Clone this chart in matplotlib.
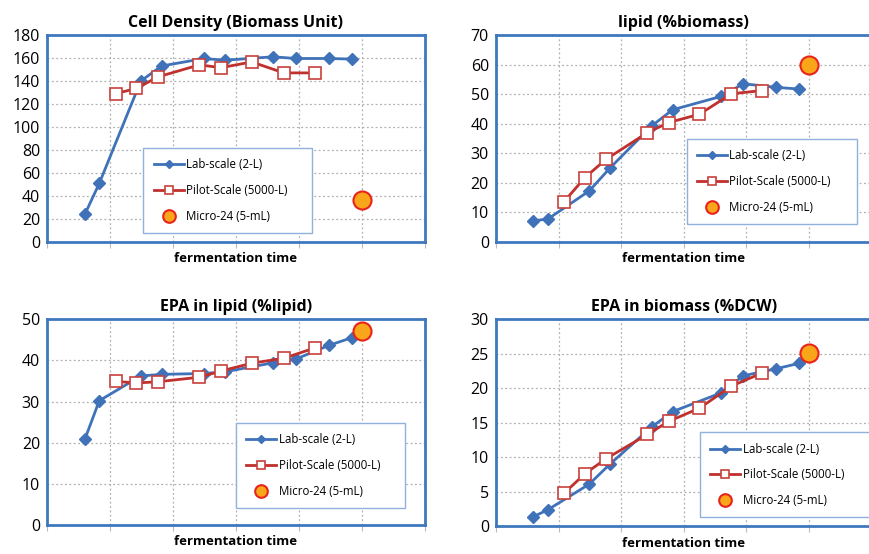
import numpy as np
import matplotlib.pyplot as plt

plt.rcParams['font.family'] = ['Open Sans', 'DejaVu Sans']

# sampling positions (fermentation time, arbitrary units)
t_lab = [0.6, 0.83, 1.49, 1.82, 2.49, 2.82, 3.59, 3.95, 4.47, 4.84]
t_pilot = [1.09, 1.42, 1.76, 2.42, 2.76, 3.25, 3.76, 4.25]
t_micro = [5.0]

# Cell density (biomass unit)
dens_lab = [24, 51, 140, 153, 159.5, 158, 161, 159.5, 159.5, 159]
dens_pilot = [129, 133.5, 143.5, 154, 151.5, 156.5, 147, 147]
dens_micro = [37]

# lipid (%biomass)
lip_lab = [7.2, 7.8, 17.3, 25, 39.3, 44.7, 49.2, 53.5, 52.3, 51.7]
lip_pilot = [13.7, 21.8, 28, 37, 40.4, 43.2, 50.1, 51.2]
lip_micro = [60]

# EPA in lipid (%lipid)
epal_lab = [20.8, 30.2, 36.2, 36.6, 36.8, 37.2, 39.4, 40.3, 43.6, 45.5]
epal_pilot = [34.9, 34.5, 34.8, 35.9, 37.4, 39.3, 40.5, 43.0]
epal_micro = [47]

# EPA in biomass (%DCW)
epab_lab = [1.4, 2.4, 6.1, 9.0, 14.4, 16.6, 19.3, 21.8, 22.8, 23.6]
epab_pilot = [4.8, 7.6, 9.8, 13.3, 15.2, 17.1, 20.3, 22.2]
epab_micro = [25.1]

panels = [
    ("Cell Density (Biomass Unit)", dens_lab, dens_pilot, dens_micro, 180, 20,
     [0.054, 0.563, 0.4345, 0.374], (0.255, 0.043, 0.447, 0.357)),
    ("lipid (%biomass)", lip_lab, lip_pilot, lip_micro, 70, 10,
     [0.570, 0.563, 0.432, 0.374], (0.508, 0.087, 0.452, 0.357)),
    ("EPA in lipid (%lipid)", epal_lab, epal_pilot, epal_micro, 50, 10,
     [0.054, 0.052, 0.4345, 0.372], (0.500, 0.083, 0.447, 0.364)),
    ("EPA in biomass (%DCW)", epab_lab, epab_pilot, epab_micro, 30, 5,
     [0.570, 0.050, 0.432, 0.374], (0.543, 0.043, 0.452, 0.357)),
]

fig = plt.figure(figsize=(8.7, 5.54), dpi=100)

for title, lab, pilot, micro, ymax, ystep, rect, lrect in panels:
    ax = fig.add_axes(rect)
    ax.plot(t_lab, lab, color='#3f72b8', lw=2, marker='D', ms=6.5,
            label='Lab-scale (2-L)', zorder=3)
    ax.plot(t_pilot, pilot, color='#c0302d', lw=2, marker='s', ms=9,
            mfc='white', mec='#c8403c', mew=1.2,
            label='Pilot-Scale (5000-L)', zorder=4)
    ax.plot(t_micro, micro, ls='none', marker='o', ms=13, mfc='#f9a61a',
            mec='#e8231c', mew=1.5, label='Micro-24 (5-mL)', zorder=5)

    ax.set_xlim(0, 6)
    ax.set_ylim(0, ymax)
    ax.set_xticks(np.arange(0, 7, 1))
    ax.set_xticklabels([])
    ax.set_yticks(np.arange(0, ymax + ystep / 2, ystep))
    ax.tick_params(axis='y', length=0, labelsize=11.5, pad=5)
    ax.tick_params(axis='x', length=4, color='#bbbbbb', direction='out')
    ax.grid(True, ls=(0, (1.5, 2)), color='#b0b0b0', lw=0.9)
    for s in ax.spines.values():
        s.set_color('#3f78bd')
        s.set_linewidth(2)

    ax.set_title(title, fontsize=11.5, fontweight='bold', pad=6)
    ax.set_xlabel('fermentation time', fontsize=9.5, fontweight='bold')
    ax.xaxis.set_label_coords(0.5, -0.05)

    leg = ax.legend(loc='lower left', bbox_to_anchor=lrect, mode='expand',
                    fontsize=8.3, frameon=True, fancybox=False,
                    handlelength=2.6, handletextpad=0.2, labelspacing=1.1,
                    borderpad=0.9, borderaxespad=0, markerscale=0.7)
    leg.get_frame().set_edgecolor('#8fb1dc')
    leg.get_frame().set_linewidth(1)
    leg.get_frame().set_alpha(1)

fig.savefig('out.png', dpi=100)
